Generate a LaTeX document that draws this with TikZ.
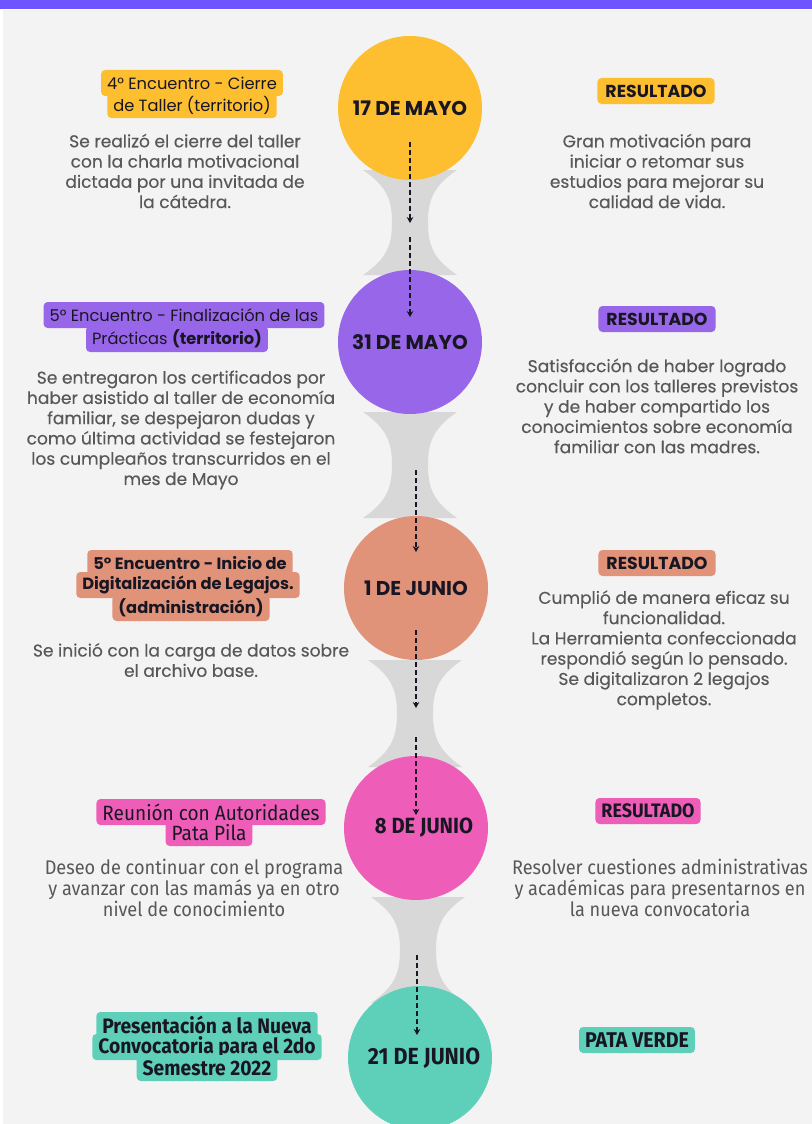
\documentclass[tikz,border=0pt]{standalone}
\usepackage{fontspec}
\setmainfont{Poppins}
\newfontfamily\cuerpofont[FakeBold=0.3]{Poppins}
\newfontfamily\angosta[FakeStretch=0.92]{Fira Sans}
\usetikzlibrary{arrows.meta}

\definecolor{barra}{RGB}{110,85,255}
\definecolor{fondo}{RGB}{243,243,243}
\definecolor{cuellogris}{RGB}{216,216,216}
\definecolor{amarillo}{RGB}{253,190,47}
\definecolor{violeta}{RGB}{152,102,232}
\definecolor{salmon}{RGB}{225,147,122}
\definecolor{rosa}{RGB}{238,94,184}
\definecolor{turquesa}{RGB}{94,207,185}
\definecolor{textogris}{RGB}{88,88,88}
\definecolor{textoosc}{RGB}{25,22,35}

% grey hourglass between two dates: centre x, top, bottom
\newcommand{\cuello}[3]{%
  \fill[cuellogris] ({#1-47},#2) -- ({#1+47},#2)
    .. controls ({#1+24},{#2+16}) and ({#1+18},{(#2+#3)/2-24}) .. ({#1+18},{(#2+#3)/2})
    .. controls ({#1+18},{(#2+#3)/2+24}) and ({#1+24},{#3-16}) .. ({#1+47},#3)
    -- ({#1-47},#3)
    .. controls ({#1-24},{#3-16}) and ({#1-18},{(#2+#3)/2+24}) .. ({#1-18},{(#2+#3)/2})
    .. controls ({#1-18},{(#2+#3)/2-24}) and ({#1-24},{#2+16}) .. cycle;}

\tikzset{
  fecha/.style={circle, fill=#1, minimum size=108pt, inner sep=0pt, text=textoosc,
    font=\fontsize{15}{17}\selectfont\bfseries},
  etiqueta/.style={fill=#1, rounded corners=3pt, inner xsep=4.5pt, inner ysep=0pt,
    minimum height=19.5pt, text=textoosc, font=\fontsize{12.2}{14}\selectfont},
  cuerpo/.style={align=center, text=textogris, font=\fontsize{12.8}{15.2}\selectfont\cuerpofont},
  flecha/.style={draw=textoosc, line width=1.4pt, dash pattern=on 3.5pt off 2.5pt,
    -{Stealth[length=4.5pt,width=5pt]}},
}

\begin{document}
\begin{tikzpicture}[x=0.75pt, y=-0.75pt]
	\useasboundingbox (0,0) rectangle (812,1124);
	\fill[white] (0,0) rectangle (812,1124);
	\fill[fondo] (3,10) rectangle (812,1124);
	\fill[barra] (0,0) rectangle (812,9);

	% hourglasses
	\cuello{410}{170}{275}
	\cuello{410}{412}{518}
	\cuello{415}{660}{767}
	\cuello{418}{897}{1003}

	% dates
	\node[fecha=amarillo] (c1) at (410,108) {17 DE MAYO};
	\node[fecha=violeta] (c2) at (410,342) {31 DE MAYO};
	\node[fecha=salmon] (c3) at (416,588) {1 DE JUNIO};
	\node[fecha=rosa, font=\fontsize{16.5}{18}\selectfont\angosta\bfseries] (c4) at (416,828) {\hspace*{12pt}8 DE JUNIO};
	\node[fecha=turquesa, font=\fontsize{17.5}{19}\selectfont\angosta\bfseries] (c5) at (420,1058) {\hspace*{6pt}21 DE JUNIO};

	% dashed arrows
	\coordinate (f1a) at (410,142); \coordinate (f1b) at (410,223);
	\coordinate (f2a) at (410,237); \coordinate (f2b) at (410,317);
	\coordinate (f3a) at (416,470); \coordinate (f3b) at (416,552);
	\coordinate (f4a) at (416,630); \coordinate (f4b) at (416,708);
	\coordinate (f5a) at (416,737); \coordinate (f5b) at (416,815);
	\coordinate (f6a) at (417,955); \coordinate (f6b) at (417,1035);
	\draw[flecha] (f1a) -- (f1b);
	\draw[flecha] (f2a) -- (f2b);
	\draw[flecha] (f3a) -- (f3b);
	\draw[flecha] (f4a) -- (f4b);
	\draw[flecha] (f5a) -- (f5b);
	\draw[flecha] (f6a) -- (f6b);

	% 17 de mayo
	\node[etiqueta=amarillo] (t1a) at (192,83) {4° Encuentro - Cierre};
	\node[etiqueta=amarillo] (t1b) at (192,105) {de Taller (territorio)};
	\node[cuerpo] (b1) at (185,171) {Se realizó el cierre del taller\\con la charla motivacional\\dictada por una invitada de\\la cátedra.};
	\node[etiqueta=amarillo, inner xsep=6pt, font=\fontsize{13}{14}\selectfont\bfseries] (r1) at (656,91) {RESULTADO};
	\node[cuerpo] (s1) at (657,171) {Gran motivación para\\iniciar o retomar sus\\estudios para mejorar su\\calidad de vida.};

	% 31 de mayo
	\node[etiqueta=violeta] (t2a) at (184,315) {5° Encuentro - Finalización de las};
	\node[etiqueta=violeta] (t2b) at (177,339) {Prácticas \textbf{(territorio)}};
	\node[cuerpo] (b2) at (181,430) {Se entregaron los certificados por\\haber asistido al taller de economía\\familiar, se despejaron dudas y\\como última actividad se festejaron\\los cumpleaños transcurridos en el\\mes de Mayo};
	\node[etiqueta=violeta, inner xsep=6pt, font=\fontsize{13}{14}\selectfont\bfseries] (r2) at (657,319) {RESULTADO};
	\node[cuerpo] (s2) at (657,406) {Satisfacción de haber logrado\\concluir con los talleres previstos\\y de haber compartido los\\conocimientos sobre economía\\familiar con las madres.};

	% 1 de junio
	\node[etiqueta=salmon, font=\fontsize{12.2}{14}\selectfont\bfseries] (t3a) at (190,563) {5° Encuentro - Inicio de};
	\node[etiqueta=salmon, font=\fontsize{12.2}{14}\selectfont\bfseries] (t3b) at (188,585) {Digitalización de Legajos.};
	\node[etiqueta=salmon, font=\fontsize{12.2}{14}\selectfont\bfseries] (t3c) at (191,608) {(administración)};
	\node[cuerpo] (b3) at (191,660) {Se inició con la carga de datos sobre\\el archivo base.};
	\node[etiqueta=salmon, inner xsep=6pt, font=\fontsize{13}{14}\selectfont\bfseries] (r3) at (657,563) {RESULTADO};
	\node[cuerpo] (s3) at (664,650) {Cumplió de manera eficaz su\\funcionalidad.\\La Herramienta confeccionada\\respondió según lo pensado.\\Se digitalizaron 2 legajos\\completos.};

	% 8 de junio
	\node[etiqueta=rosa, font=\fontsize{15.5}{16}\selectfont\angosta] (t4a) at (211,812) {Reunión con Autoridades};
	\node[etiqueta=rosa, font=\fontsize{15.5}{16}\selectfont\angosta] (t4b) at (209,833) {Pata Pila};
	\node[cuerpo, font=\fontsize{14.8}{15.5}\selectfont\angosta] (b4) at (194,888) {Deseo de continuar con el programa\\y avanzar con las mamás ya en otro\\nivel de conocimiento};
	\node[etiqueta=rosa, font=\fontsize{14.6}{16}\selectfont\angosta\bfseries] (r4) at (648,811) {RESULTADO};
	\node[cuerpo, font=\fontsize{14.8}{15.5}\selectfont\angosta] (s4) at (660,888) {Resolver cuestiones administrativas\\y académicas para presentarnos en\\la nueva convocatoria};

	% 21 de junio
	\node[etiqueta=turquesa, font=\fontsize{15.7}{16}\selectfont\angosta\bfseries] (t5a) at (207,1025) {Presentación a la Nueva};
	\node[etiqueta=turquesa, font=\fontsize{15.7}{16}\selectfont\angosta\bfseries] (t5b) at (207,1047) {Convocatoria para el 2do};
	\node[etiqueta=turquesa, font=\fontsize{15.7}{16}\selectfont\angosta\bfseries] (t5c) at (207,1068) {Semestre 2022};
	\node[etiqueta=turquesa, font=\fontsize{16}{17}\selectfont\angosta\bfseries] (r5) at (637,1040) {PATA VERDE};
\end{tikzpicture}
\end{document}
